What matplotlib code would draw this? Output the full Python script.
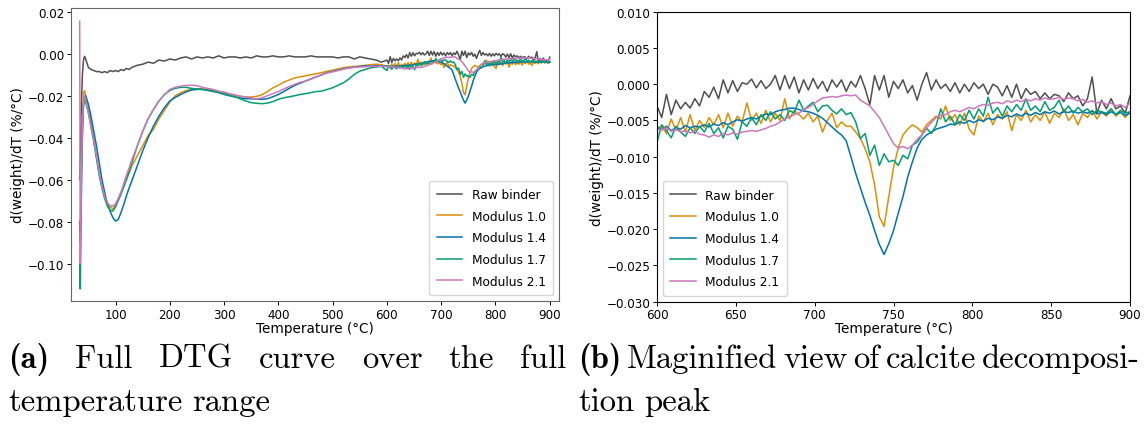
import numpy as np
import matplotlib
matplotlib.use("Agg")
import matplotlib.pyplot as plt

# ==========================================
# DATA  (DTG values in 1e-3 %/°C)
# ==========================================

# temperatures below 600 °C (coarse read-off)
t_low = [34, 35, 37, 39, 41, 43, 45,
         50, 55, 60, 65, 70, 75, 80, 85, 90, 95,
         100, 105, 110, 115, 120, 125, 130,
         140, 150, 160, 170, 180, 190, 200, 210, 220, 230,
         240, 250, 260, 270, 280, 290, 300, 310, 320, 330,
         340, 350, 360, 370, 380, 390, 400, 410, 420, 430,
         440, 450, 460, 470, 480, 490, 500, 510, 520, 530,
         540, 550, 560, 570, 580, 590]

# 600 .. 900 °C, every 3 °C
t_high = list(range(600, 901, 3))

labels = ["Raw binder", "Modulus 1.0", "Modulus 1.4", "Modulus 1.7", "Modulus 2.1"]
colors = ["#505050", "#de8f05", "#0173b2", "#029e73", "#cc78bc"]

raw_low = [-60, -50, -25, -10, -3, -1.2, -2.5,
           -6.5, -7.5, -8.0, -8.5, -8.5, -9.0, -8.5, -9.0, -8.0, -8.5,
           -8.0, -8.5, -7.5, -8.0, -7.0, -7.5, -6.5,
           -5.5, -5.0, -4.0, -4.5, -3.0, -3.5, -2.5, -3.0, -2.0, -1.5,
           -2.5, -1.5, -2.0, -1.5, -2.0, -1.0, -2.0, -1.5, -1.5, -2.0,
           -1.5, -2.0, -1.0, -1.5, -1.5, -1.0, -1.5, -1.5, -1.0, -1.5,
           -1.5, -1.5, -1.0, -1.5, -1.5, -1.5, -1.5, -2.0, -1.5, -1.5,
           -2.5, -1.5, -2.0, -2.5, -3.0, -4.0]
raw_high = [-3.0, -4.6, -1.4, -4.2, -2.2, -3.4, -2.5, -3.3, -2.0, -3.0,
            -1.0, -1.8, -0.4, -2.0, 0.6, -1.2, 0.5, -1.0, 0.2, 0.0,
            0.7, -0.5, 0.5, -0.6, 0.0, 1.2, -0.8, 1.2, -0.6, 1.0,
            -1.2, 0.6, -0.8, 0.8, -0.6, 0.4, -1.0, 0.6, -0.4, 0.6,
            -1.0, 0.4, -0.4, 1.2, -0.6, -2.8, 1.2, -0.8, 1.2, -1.8,
            0.4, -0.6, 0.6, -1.2, -0.2, -2.2, 0.0, 1.6, -0.8, 0.6,
            -0.6, 0.0, -1.0, 0.2, -1.2, 0.0, -1.0, 0.2, -0.6, 0.0,
            -1.4, 0.0, -0.4, -1.6, -0.2, -1.8, 0.0, -2.0, -0.6, -1.4,
            -1.0, -2.0, -1.2, -2.0, -1.4, -1.6, -2.4, -1.2, -2.0, -1.6,
            -3.0, -2.0, 1.0, -4.0, -2.2, -3.4, -2.0, -3.4, -3.0, -4.0,
            -1.6]

m10_low = [-80, -90, -55, -30, -19, -17.5, -20,
           -26, -33, -41, -49, -57, -63, -68, -71, -73, -74,
           -72, -69, -66, -63, -60, -57, -53.5,
           -48.7, -44, -39, -36, -31, -27, -23, -20, -18.6, -17.5,
           -17, -16.7, -16.7, -17, -17.5, -18, -18.6, -19.2, -19.8, -20.3,
           -20.6, -20.6, -20.3, -19.5, -18, -16.2, -15, -13.5, -12.5, -11.5,
           -11, -10.5, -10, -9.5, -9.0, -8.3, -7.8, -7.2, -6.6, -6.3,
           -6.0, -5.9, -5.5, -5.2, -5.0, -5.2]
m10_high = [-6.0, -5.8, -6.8, -4.8, -6.4, -4.6, -6.6, -4.2, -6.4, -5.0,
            -6.0, -4.6, -5.6, -4.2, -6.0, -4.0, -5.8, -4.4, -5.2, -2.6,
            -5.0, -4.0, -5.4, -3.6, -5.2, -4.0, -5.0, -2.0, -4.8, -3.6,
            -4.2, -4.8, -4.0, -5.2, -4.4, -6.6, -5.0, -4.0, -6.0, -5.2,
            -5.8, -5.8, -6.6, -7.5, -8.9, -10.7, -13.9, -18.3, -19.6, -15.5,
            -11.5, -8.8, -7.0, -6.2, -5.6, -6.0, -6.6, -5.6, -5.0, -4.4,
            -4.8, -3.0, -5.0, -4.2, -5.6, -4.0, -6.2, -7.0, -4.4, -5.2,
            -4.0, -5.6, -4.2, -4.8, -3.8, -6.4, -4.2, -5.0, -3.6, -5.2,
            -4.2, -5.0, -3.8, -5.4, -4.0, -4.6, -3.4, -5.0, -4.2, -5.6,
            -4.0, -4.6, -3.6, -4.8, -3.8, -4.4, -3.4, -4.4, -3.8, -4.6,
            -3.8]

m14_low = [-80, -90, -55, -35, -24, -21, -20,
           -24, -30, -37, -44, -52, -60, -66, -71.7, -75, -78,
           -79.7, -79, -75.7, -72, -67.8, -64, -60.6,
           -53.5, -46.3, -40, -34.4, -29.7, -25.7, -22.5, -20.8, -19.4, -18.2,
           -17.3, -17, -17, -17.3, -17.8, -18.5, -19.4, -20, -20.6, -21.1,
           -21.4, -21.4, -21.6, -21.7, -21.4, -20.5, -19.4, -18, -16.5, -15.1,
           -14, -13, -12, -11, -10, -9, -8.4, -7.8, -7.2, -6.7,
           -6.4, -6.0, -5.8, -5.9, -5.7, -5.8]
m14_high = [-5.9, -6.3, -5.8, -6.4, -6.0, -6.2, -5.7, -6.0, -5.8, -5.9,
            -5.6, -5.9, -5.5, -5.7, -5.3, -5.6, -5.2, -4.9, -5.1, -4.8,
            -4.6, -4.8, -4.4, -4.1, -4.2, -3.8, -3.6, -3.5, -3.3, -3.3,
            -3.5, -3.7, -3.8, -4.0, -4.3, -4.7, -5.3, -5.9, -6.5, -7.0,
            -7.8, -10.0, -12.3, -14.3, -16.3, -18.1, -20.2, -22.1, -23.5, -22.0,
            -20.2, -17.8, -15.5, -12.8, -10.7, -8.8, -7.6, -7.0, -6.6, -6.2,
            -6.0, -5.8, -5.5, -5.6, -5.2, -5.4, -5.0, -5.3, -4.9, -5.1,
            -4.7, -4.9, -4.5, -4.7, -4.3, -4.5, -4.1, -4.4, -4.0, -4.3,
            -3.9, -4.2, -3.8, -4.0, -3.7, -4.1, -3.8, -3.9, -3.7, -4.0,
            -3.8, -4.0, -3.7, -4.1, -3.9, -4.2, -3.8, -4.1, -3.9, -4.3,
            -4.0]

m17_low = [-100, -112, -70, -40, -25, -21, -23,
           -28, -35, -42, -50, -58, -64, -69, -72.5, -74.5, -75,
           -73, -70, -67, -63.5, -60, -56, -52,
           -44, -37, -31, -26.5, -22.5, -19.5, -17.5, -16.5, -16, -16,
           -16.5, -16.8, -17, -17.5, -18, -18.5, -19, -19.8, -20.5, -21.5,
           -22.5, -23.3, -23.6, -23.8, -23.5, -22.8, -21.7, -21, -20.5, -20,
           -19.4, -19, -18.5, -18, -17.8, -17, -16.2, -15, -13.8, -12,
           -9.8, -8.3, -7.5, -6.7, -6.3, -6.0]
m17_high = [-8.0, -5.6, -6.4, -7.4, -5.8, -6.6, -7.2, -6.0, -6.8, -5.8,
            -6.6, -5.4, -6.8, -6.0, -7.4, -5.8, -6.2, -7.6, -5.2, -5.8,
            -4.6, -5.6, -4.2, -5.0, -3.8, -4.8, -4.2, -5.0, -3.6, -4.0,
            -2.2, -3.6, -3.0, -2.5, -3.8, -3.0, -2.9, -3.6, -4.1, -3.4,
            -4.2, -3.9, -5.2, -7.5, -6.8, -9.8, -8.4, -11.2, -9.6, -10.7,
            -10.5, -11.2, -9.8, -10.3, -8.4, -8.0, -7.0, -6.1, -6.8, -5.7,
            -3.4, -5.2, -4.4, -5.6, -4.2, -5.0, -3.6, -4.8, -3.4, -4.4,
            -1.8, -4.0, -3.2, -4.4, -3.0, -3.8, -2.8, -3.6, -2.0, -3.6,
            -3.0, -3.8, -2.4, -3.6, -3.2, -2.2, -3.8, -3.0, -4.0, -3.2,
            -3.8, -3.4, -4.2, -3.6, -3.8, -4.0, -3.4, -4.2, -3.6, -4.0,
            -3.8]

m21_low = [15.5, -100, -60, -35, -23, -20, -22,
           -28, -35, -41, -49, -57, -63, -68, -71, -72.5, -72.5,
           -71.5, -69, -66, -62, -58, -54.5, -50.5,
           -44, -37, -31, -26.5, -22.5, -19.5, -17, -16, -15.4, -15.1,
           -15, -15.2, -16, -16.5, -17, -17.8, -18.3, -19, -19.6, -20.2,
           -20.7, -21, -21.5, -21, -20, -19, -18, -16.8, -15.6, -14.6,
           -13.6, -13, -12, -11, -10, -9.2, -8.6, -8, -7.3, -6.8,
           -6.4, -6.3, -6.2, -6.0, -6.0, -5.9]
m21_high = [-6.2, -6.3, -6.0, -6.5, -6.2, -6.6, -6.4, -6.7, -6.5, -6.9,
            -7.0, -7.3, -7.0, -7.2, -6.8, -7.0, -6.7, -6.9, -6.6, -6.5,
            -6.4, -6.5, -6.3, -6.1, -5.8, -5.6, -5.2, -4.8, -4.5, -4.2,
            -4.0, -3.5, -3.2, -2.8, -2.3, -1.9, -1.8, -1.7, -1.8, -1.6,
            -1.5, -1.6, -1.5, -2.2, -2.6, -3.0, -3.8, -4.6, -5.8, -7.0,
            -8.2, -8.8, -8.6, -8.9, -8.4, -7.6, -7.0, -6.0, -5.3, -4.6,
            -4.3, -4.2, -3.8, -3.6, -3.8, -3.5, -3.2, -3.4, -3.0, -2.8,
            -2.9, -2.6, -2.5, -2.7, -2.3, -2.5, -2.2, -2.4, -2.1, -2.3,
            -2.0, -2.2, -1.9, -2.1, -2.0, -1.8, -2.1, -1.9, -2.0, -2.3,
            -2.1, -2.5, -2.3, -2.6, -2.4, -2.8, -2.6, -3.0, -2.8, -3.2,
            -2.6]

series_low = [raw_low, m10_low, m14_low, m17_low, m21_low]
series_high = [raw_high, m10_high, m14_high, m17_high, m21_high]

temps = np.array(t_low + t_high, dtype=float)
curves = []
for lo, hi in zip(series_low, series_high):
    assert len(lo) == len(t_low) and len(hi) == len(t_high)
    curves.append(np.array(lo + hi) * 1e-3)

# ==========================================
# FIGURE
# ==========================================

W, H = 1146, 427
TICK_SIZE = 8.6
LEG_SIZE = 8.7
LABEL_SIZE = 9.8

fig = plt.figure(figsize=(W / 100, H / 100), dpi=100)
ax1 = fig.add_axes([71 / W, 1 - 302 / H, 488 / W, 293 / H])
ax2 = fig.add_axes([657 / W, 1 - 302.7 / H, 473 / W, 290 / H])

for y, lab, col in zip(curves, labels, colors):
    ax1.plot(temps, y, color=col, lw=1.1, label=lab)
    ax2.plot(temps, y, color=col, lw=1.1, label=lab)

ax1.set_xlim(18, 917)
ax1.set_ylim(-0.1178, 0.0218)
ax1.set_xticks([100, 200, 300, 400, 500, 600, 700, 800, 900])
ax1.set_yticks([0.02, 0.0, -0.02, -0.04, -0.06, -0.08, -0.10])
ax1.legend(loc="lower right", fontsize=LEG_SIZE, borderpad=0.6,
           labelspacing=0.72, handlelength=2.1)
for s in ax1.spines.values():
    s.set_color("#666666")

ax2.set_xlim(600, 900)
ax2.set_ylim(-0.030, 0.010)
ax2.set_xticks([600, 650, 700, 750, 800, 850, 900])
ax2.set_yticks([0.010, 0.005, 0.0, -0.005, -0.010, -0.015, -0.020, -0.025, -0.030])
ax2.legend(loc="lower left", fontsize=LEG_SIZE, borderpad=0.6,
           labelspacing=0.72, handlelength=2.1)

for ax in (ax1, ax2):
    ax.set_xlabel("Temperature (°C)", fontsize=LABEL_SIZE, labelpad=0)
    ax.set_ylabel("d(weight)/dT (%/°C)", fontsize=LABEL_SIZE, labelpad=2)
    ax.tick_params(labelsize=TICK_SIZE, length=2.8, width=0.7, pad=2)

# ==========================================
# CAPTIONS (justified like LaTeX subcaptions)
# ==========================================

CAP_SIZE = 23.5
renderer = fig.canvas.get_renderer()


def put_line(words, x0, x1, y, justify=True):
    texts = []
    for w in words:
        fam = "cmb10" if w.startswith("(") else "cmr10"
        texts.append(fig.text(0, 1 - y / H, w, fontsize=CAP_SIZE,
                              family=fam, va="baseline", ha="left"))
    widths = [t.get_window_extent(renderer).width for t in texts]
    if justify and len(texts) > 1:
        gap = (x1 - x0 - sum(widths)) / (len(texts) - 1)
    else:
        gap = 0.30 * CAP_SIZE * 100 / 72
    x = x0
    for t, w in zip(texts, widths):
        t.set_x(x / W)
        x += w + gap


put_line(["(a)", "Full", "DTG", "curve", "over", "the", "full"], 8, 566, 368)
put_line(["temperature", "range"], 8, 566, 411, justify=False)
put_line(["(b)", "Maginified", "view", "of", "calcite", "decomposi-"], 578, 1140, 368)
put_line(["tion", "peak"], 578, 1140, 411, justify=False)

fig.savefig("out.png", dpi=100)
